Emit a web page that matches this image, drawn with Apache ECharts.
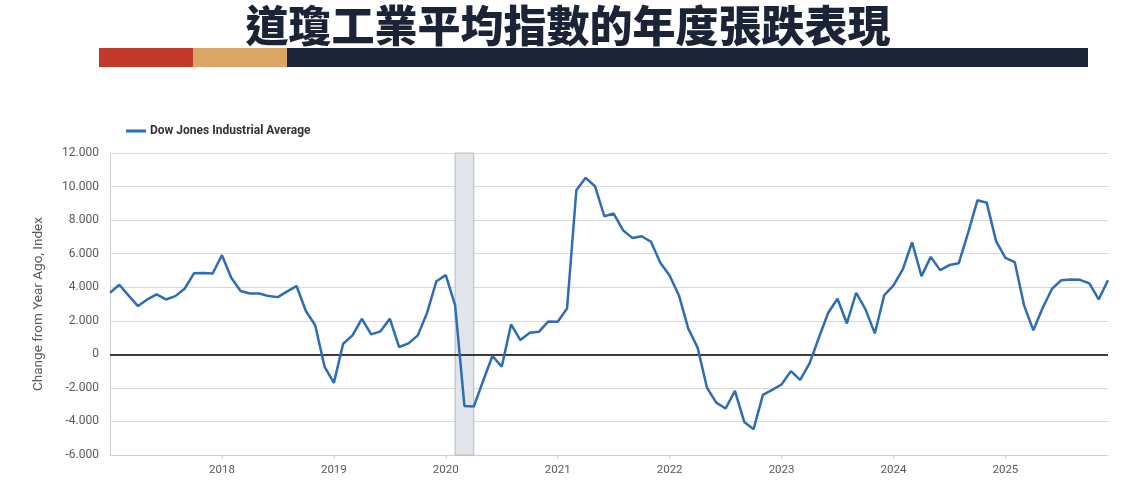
<!DOCTYPE html>
<html>
<head>
<meta charset="utf-8">
<script src="https://cdn.jsdelivr.net/npm/echarts@6/dist/echarts.min.js"></script>
<style>
html,body{margin:0;padding:0;background:#fff;}
#c{width:1136px;height:482px;}
</style>
</head>
<body>
<div id="c"></div>
<script>
const titleText = '道瓊工業平均指數的年度張跌表現';
const seriesName = 'Dow Jones Industrial Average';
const yAxisName = 'Change from Year Ago, Index';
const years = ['2017','2018','2019','2020','2021','2022','2023','2024','2025'];
const months = ['01','02','03','04','05','06','07','08','09','10','11','12'];
const recession = ['2020-02','2020-04'];
const v2017 = [3670, 4150, 3500, 2875, 3270, 3570, 3270, 3470, 3910, 4830, 4850, 4820];
const v2018 = [5910, 4560, 3770, 3630, 3630, 3470, 3410, 3750, 4070, 2580, 1730, -730];
const v2019 = [-1700, 630, 1130, 2120, 1190, 1370, 2120, 435, 655, 1130, 2480, 4360];
const v2020 = [4720, 2940, -3080, -3115, -1590, -100, -735, 1785, 850, 1290, 1350, 1960];
const v2021 = [1945, 2730, 9780, 10520, 10020, 8230, 8390, 7400, 6940, 7040, 6710, 5460];
const v2022 = [4700, 3510, 1530, 400, -1980, -2880, -3230, -2180, -4030, -4460, -2420, -2120];
const v2023 = [-1800, -1000, -1520, -535, 990, 2480, 3310, 1840, 3670, 2680, 1250, 3510];
const v2024 = [4110, 5060, 6680, 4660, 5810, 5020, 5320, 5430, 7240, 9180, 9030, 6750];
const v2025 = [5750, 5500, 2920, 1430, 2780, 3910, 4420, 4460, 4440, 4230, 3270, 4420];

const categories = [];
years.forEach(y => months.forEach(m => categories.push(y + '-' + m)));
const values = [].concat(v2017, v2018, v2019, v2020, v2021, v2022, v2023, v2024, v2025);

const showYearTick = (i, v) => v.endsWith('-01') && i > 0;
const fmtThousands = v => {
  const s = String(Math.abs(v)).replace(/\B(?=(\d{3})+(?!\d))/g, '.');
  return (v < 0 ? '-' : '') + s;
};

const chart = echarts.init(document.getElementById('c'));
chart.setOption({
  animation: false,
  backgroundColor: '#ffffff',
  title: {
    text: titleText,
    left: 'center',
    top: -1,
    textStyle: {
      fontFamily: 'Noto Sans CJK TC',
      fontSize: 43,
      fontWeight: 900,
      color: '#1b2336'
    }
  },
  graphic: [
    {type: 'rect', shape: {x: 99, y: 48, width: 94, height: 19}, style: {fill: '#c0392b'}},
    {type: 'rect', shape: {x: 193, y: 48, width: 94, height: 19}, style: {fill: '#dba664'}},
    {type: 'rect', shape: {x: 287, y: 48, width: 801, height: 19}, style: {fill: '#1b2439'}}
  ],
  legend: {
    left: 121,
    top: 120,
    icon: 'rect',
    itemWidth: 20,
    itemHeight: 3,
    itemGap: 6,
    textStyle: {fontFamily: 'Roboto', fontSize: 12, fontWeight: 'bold', color: '#333333', padding: [0, 0, 0, -1]},
    data: [seriesName]
  },
  grid: {left: 110, right: 28, top: 153, bottom: 27},
  xAxis: {
    type: 'category',
    data: categories,
    boundaryGap: false,
    axisLine: {onZero: false, lineStyle: {color: '#d0d0d0', width: 1}},
    axisTick: {show: true, interval: showYearTick, length: 4, lineStyle: {color: '#d0d0d0'}},
    axisLabel: {
      interval: showYearTick,
      formatter: v => v.slice(0, 4),
      fontFamily: 'Roboto',
      fontSize: 11.5,
      color: '#595959',
      margin: 9
    },
    splitLine: {show: false}
  },
  yAxis: {
    type: 'value',
    min: -6000,
    max: 12000,
    interval: 2000,
    name: yAxisName,
    nameLocation: 'middle',
    nameGap: 64,
    nameTextStyle: {fontFamily: 'Roboto', fontSize: 13.5, color: '#595959'},
    axisLine: {show: true, lineStyle: {color: '#d0d0d0', width: 1}},
    axisTick: {show: false},
    axisLabel: {
      fontFamily: 'Roboto',
      fontSize: 12,
      color: '#595959',
      margin: 11,
      formatter: fmtThousands
    },
    splitLine: {lineStyle: {color: '#d9d9d9', width: 1}}
  },
  series: [{
    name: seriesName,
    type: 'line',
    data: values,
    symbol: 'none',
    lineStyle: {color: '#2d6db5', width: 2.5},
    itemStyle: {color: '#2d6db5'},
    z: 5,
    markArea: {
      silent: true,
      itemStyle: {color: '#e2e6eb', borderColor: '#b4b8be', borderWidth: 1},
      data: [[{xAxis: recession[0]}, {xAxis: recession[1]}]]
    },
    markLine: {
      silent: true,
      symbol: 'none',
      label: {show: false},
      lineStyle: {color: '#000000', width: 1.5, type: 'solid'},
      data: [{yAxis: 0}]
    }
  }]
});
</script>
</body>
</html>
